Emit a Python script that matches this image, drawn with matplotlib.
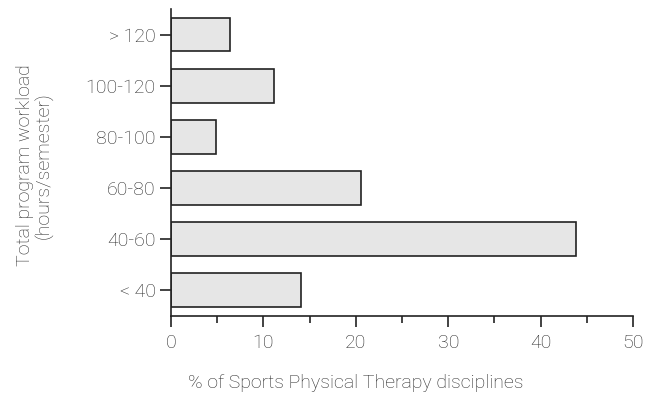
import matplotlib.pyplot as plt
from matplotlib.ticker import MultipleLocator

# workload categories, bottom to top
categories = ['< 40', '40-60', '60-80', '80-100', '100-120', '> 120']
percent = [14.1, 43.8, 20.5, 4.9, 11.1, 6.4]

plt.rcParams['font.family'] = ['Roboto', 'DejaVu Sans']
plt.rcParams['font.weight'] = 'light'
text_color = '#2a2a2a'

fig = plt.figure(figsize=(6.48, 3.94), dpi=100)
ax = fig.add_axes([0.264, 0.199, 0.713, 0.778])

ax.barh(range(len(categories)), percent, height=0.66,
        color='#e6e6e6', edgecolor='#222222', linewidth=1.2)

ax.set_xlim(0, 50)
ax.set_ylim(-0.5, 5.5)
ax.set_yticks(range(len(categories)))
ax.set_yticklabels(categories)
ax.xaxis.set_major_locator(MultipleLocator(10))
ax.xaxis.set_minor_locator(MultipleLocator(5))

for side in ['top', 'right']:
    ax.spines[side].set_visible(False)
for side in ['left', 'bottom']:
    ax.spines[side].set_linewidth(1.2)
    ax.spines[side].set_color('#222222')

ax.tick_params(axis='both', which='major', length=8, width=1.2,
               color='#222222', labelsize=14, labelcolor=text_color, pad=3)
ax.tick_params(axis='x', which='minor', length=5, width=1.2, color='#222222')
ax.tick_params(axis='x', pad=5)

ax.set_xlabel('% of Sports Physical Therapy disciplines', fontsize=14,
              color=text_color, fontweight='light')
ax.xaxis.set_label_coords(0.4, -0.19)
ax.set_ylabel('Total program workload\n(hours/semester)', fontsize=14,
              color=text_color, linespacing=1.0, fontweight='light')
ax.yaxis.set_label_coords(-0.255, 0.49)

plt.savefig('out.png', dpi=100)
